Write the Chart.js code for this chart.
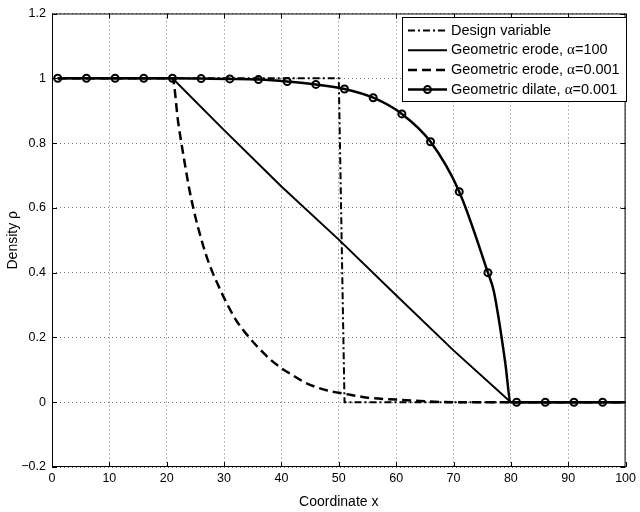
<!DOCTYPE html>
<html>
<head>
<meta charset="utf-8">
<script src="https://cdn.jsdelivr.net/npm/chart.js@4"></script>
<style>
  html, body { margin: 0; padding: 0; background: #fff; }
  #density-canvas { display: block; }
</style>
</head>
<body>
<canvas id="density-canvas" width="640" height="512"></canvas>
<script>
// values
const designX = [1, 50, 51, 100];
const designY = [1, 1, 0, 0];

const erode100X = [1, 21, 30, 40, 50, 60, 70, 80, 100];
const erode100Y = [1, 1, 0.84, 0.666, 0.502, 0.33, 0.16, 0, 0];

const erode001X = [1, 21, 22, 23, 24, 25, 26, 27, 28, 29, 30, 32, 34, 36, 38, 40, 42, 44, 46, 48, 50, 52, 55, 60, 65, 70, 100];
const erode001Y = [1, 1, 0.864, 0.753, 0.652, 0.572, 0.505, 0.447, 0.4, 0.36, 0.322, 0.256, 0.208, 0.168, 0.133, 0.105, 0.083, 0.062, 0.047, 0.036, 0.029, 0.023, 0.014, 0.008, 0.003, 0, 0];

const dilateX = [1, 6, 11, 16, 21, 26, 31, 36, 41, 46, 51, 56, 61, 66, 71, 76, 77, 78, 79, 80, 81, 86, 91, 96, 100];
const dilateY = [1, 1, 1, 1, 1, 0.999, 0.998, 0.996, 0.99, 0.981, 0.967, 0.94, 0.89, 0.804, 0.65, 0.4, 0.345, 0.245, 0.125, 0, 0, 0, 0, 0, 0];
const dilateMarkX = [1, 6, 11, 16, 21, 26, 31, 36, 41, 46, 51, 56, 61, 66, 71, 76, 81, 86, 91, 96];

const xTicks = [0, 10, 20, 30, 40, 50, 60, 70, 80, 90, 100];
const yTicks = [-0.2, 0, 0.2, 0.4, 0.6, 0.8, 1, 1.2];

const legendLabels = [
  ["Design variable"],
  ["Geometric erode, ", "α", "=100"],
  ["Geometric erode, ", "α", "=0.001"],
  ["Geometric dilate, ", "α", "=0.001"],
];

const SANS = "'Liberation Sans', Arial, sans-serif";
const SERIF = "'Liberation Serif', 'DejaVu Serif', serif";

function toPoints(xs, ys) {
  return xs.map((x, i) => ({ x: x, y: ys[i] }));
}

function fmtTick(v) {
  let s = String(Math.round(v * 10) / 10);
  return s.replace("-", "\u2212");
}

// box + inward ticks, matlab style
const framePlugin = {
  id: "frame",
  afterDatasetsDraw(chart) {
    const { ctx, chartArea: a, scales } = chart;
    ctx.save();
    ctx.strokeStyle = "#000";
    ctx.lineWidth = 1;
    ctx.setLineDash([]);
    ctx.strokeRect(a.left + 0.5, a.top + 0.5, a.right - a.left - 1, a.bottom - a.top - 1);
    ctx.beginPath();
    xTicks.forEach((v) => {
      const px = Math.round(scales.x.getPixelForValue(v)) + 0.5;
      ctx.moveTo(px, a.bottom);
      ctx.lineTo(px, a.bottom - 5);
      ctx.moveTo(px, a.top);
      ctx.lineTo(px, a.top + 5);
    });
    yTicks.forEach((v) => {
      const py = Math.round(scales.y.getPixelForValue(v)) + 0.5;
      ctx.moveTo(a.left, py);
      ctx.lineTo(a.left + 5, py);
      ctx.moveTo(a.right, py);
      ctx.lineTo(a.right - 5, py);
    });
    ctx.stroke();
    ctx.restore();
  },
};

// legend box inside the axes, top right
const legendPlugin = {
  id: "boxLegend",
  afterDraw(chart) {
    const ctx = chart.ctx;
    const left = 402, top = 17, right = 626, bottom = 101;
    ctx.save();
    ctx.fillStyle = "#fff";
    ctx.fillRect(left, top, right - left, bottom - top);
    ctx.strokeStyle = "#000";
    ctx.lineWidth = 1;
    ctx.setLineDash([]);
    ctx.strokeRect(left + 0.5, top + 0.5, right - left, bottom - top);

    chart.data.datasets.forEach((ds, i) => {
      const y = 30.5 + i * 19.7;
      ctx.strokeStyle = "#000";
      ctx.lineWidth = ds.borderWidth;
      ctx.setLineDash(ds.borderDash || []);
      ctx.beginPath();
      ctx.moveTo(408, y);
      ctx.lineTo(447, y);
      ctx.stroke();
      if (ds.markerLegend) {
        ctx.setLineDash([]);
        ctx.lineWidth = 2;
        ctx.beginPath();
        ctx.arc(427.5, y, 3.5, 0, Math.PI * 2);
        ctx.stroke();
      }
      let tx = 451;
      ctx.fillStyle = "#000";
      ctx.textBaseline = "middle";
      legendLabels[i].forEach((part) => {
        ctx.font = part === "α" ? "15px " + SERIF : "14.5px " + SANS;
        ctx.fillText(part, tx, y);
        tx += ctx.measureText(part).width;
      });
    });
    ctx.restore();
  },
};

const ctx = document.getElementById("density-canvas").getContext("2d");

new Chart(ctx, {
  type: "line",
  data: {
    datasets: [
      {
        label: "Design variable",
        data: toPoints(designX, designY),
        borderColor: "#000",
        borderWidth: 2,
        borderDash: [7, 3, 2, 3],
        pointRadius: 0,
        order: 4,
      },
      {
        label: "Geometric erode, α=100",
        data: toPoints(erode100X, erode100Y),
        borderColor: "#000",
        borderWidth: 2,
        pointRadius: 0,
        order: 3,
      },
      {
        label: "Geometric erode, α=0.001",
        data: toPoints(erode001X, erode001Y),
        borderColor: "#000",
        borderWidth: 2.5,
        borderDash: [9, 5],
        cubicInterpolationMode: "monotone",
        pointRadius: 0,
        order: 2,
      },
      {
        label: "Geometric dilate, α=0.001",
        data: toPoints(dilateX, dilateY),
        borderColor: "#000",
        borderWidth: 2.5,
        cubicInterpolationMode: "monotone",
        pointRadius: (c) => (dilateMarkX.includes(dilateX[c.dataIndex]) ? 3.5 : 0),
        pointBorderWidth: 2,
        pointBorderColor: "#000",
        pointBackgroundColor: "rgba(0,0,0,0)",
        markerLegend: true,
        order: 1,
      },
    ],
  },
  options: {
    responsive: false,
    devicePixelRatio: 1,
    animation: false,
    layout: { padding: { top: 11, right: 10, left: 0, bottom: 0 } },
    plugins: {
      legend: { display: false },
      tooltip: { enabled: false },
    },
    scales: {
      x: {
        type: "linear",
        min: 0,
        max: 100,
        afterBuildTicks: (s) => { s.ticks = xTicks.map((v) => ({ value: v })); },
        afterFit: (s) => { s.height = 45; },
        border: { display: false, dash: [1, 3] },
        grid: {
          color: "#777",
          lineWidth: 1,
          drawTicks: false,
        },
        ticks: {
          padding: 4,
          color: "#000",
          maxRotation: 0,
          autoSkip: false,
          font: { family: SANS, size: 12.5 },
          callback: (v) => fmtTick(v),
        },
        title: {
          display: true,
          text: "Coordinate x",
          color: "#000",
          font: { family: SANS, size: 14 },
          padding: { top: 1, bottom: 1 },
        },
      },
      y: {
        type: "linear",
        min: -0.2,
        max: 1.2,
        afterBuildTicks: (s) => { s.ticks = yTicks.map((v) => ({ value: v })); },
        afterFit: (s) => { s.width = 52; },
        border: { display: false, dash: [1, 3] },
        grid: {
          color: "#777",
          lineWidth: 1,
          drawTicks: false,
        },
        ticks: {
          padding: 6,
          color: "#000",
          autoSkip: false,
          font: { family: SANS, size: 12.5 },
          callback: (v) => fmtTick(v),
        },
        title: {
          display: true,
          text: "Density ρ",
          color: "#000",
          font: { family: SANS, size: 14 },
          padding: { top: 5, bottom: 5 },
        },
      },
    },
  },
  plugins: [framePlugin, legendPlugin],
});
</script>
</body>
</html>
